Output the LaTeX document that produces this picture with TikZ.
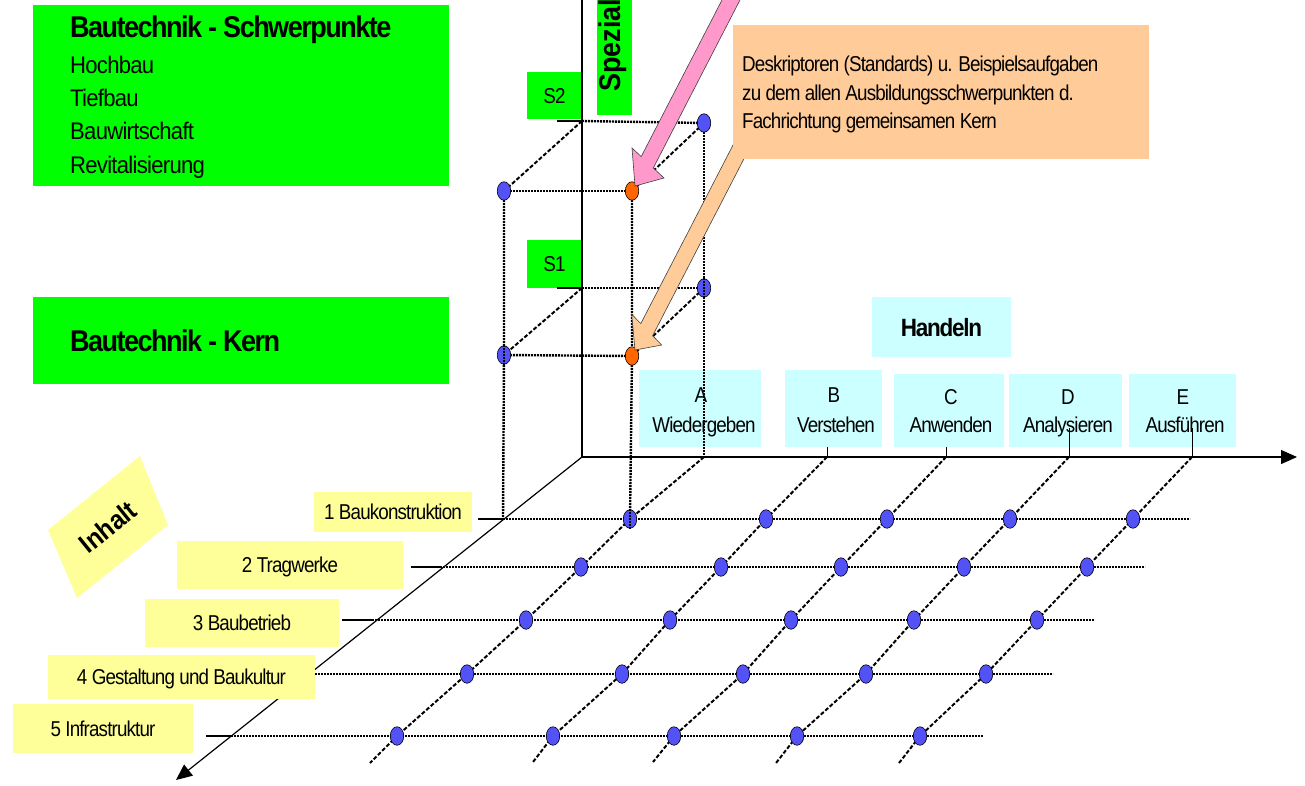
\documentclass[tikz,border=0pt]{standalone}
\usepackage{fontspec}
\setmainfont{Liberation Sans}
\newfontfamily\nf[FakeStretch=0.875,LetterSpace=-4]{Liberation Sans}
\newfontfamily\bdf[FakeStretch=0.9,LetterSpace=-5]{Liberation Sans Bold}
\newfontfamily\lf[FakeStretch=0.92,LetterSpace=-3]{Liberation Sans}
\newfontfamily\spz[FakeStretch=0.9]{Liberation Sans Bold}
\usetikzlibrary{arrows.meta,shapes.geometric}
\definecolor{kgreen}{HTML}{00FF00}
\definecolor{kpeach}{HTML}{FFCC99}
\definecolor{kpink}{HTML}{FF99CC}
\definecolor{kyellow}{HTML}{FFFF99}
\definecolor{kcyan}{HTML}{CCFFFF}
\definecolor{kblue}{HTML}{5252F7}
\definecolor{korange}{HTML}{FF6600}
\begin{document}
\begin{tikzpicture}[x=1pt,y=-1pt,
  ax/.style={line width=1.2pt,black},
  axarrow/.style={ax,-{Triangle[length=16pt,width=14pt]}},
  tick/.style={line width=1pt,black},
  hdot/.style={line width=2.4pt,black,dash pattern=on 2pt off 1pt},
  ddash/.style={line width=2pt,black,dash pattern=on 4pt off 2pt},
  dotnode/.style={ellipse,minimum width=13.5pt,minimum height=18.5pt,inner sep=0pt,draw=black,line width=0.6pt},
  bdot/.style={dotnode,fill=kblue},
  odot/.style={dotnode,fill=korange},
  gbox/.style={fill=kgreen,inner sep=0pt},
  cbox/.style={fill=kcyan,inner sep=0pt},
  ybox/.style={fill=kyellow,inner sep=0pt,font=\nf\fontsize{21.5}{26}\selectfont,text height=15.4pt,text depth=0pt},
  txt/.style={font=\nf\fontsize{21.5}{26}\selectfont,inner sep=0pt},
  lst/.style={font=\lf\fontsize{24}{28}\selectfont,inner sep=0pt,anchor=base west},
  big/.style={font=\bdf\fontsize{30}{36}\selectfont,inner sep=0pt,anchor=base west},
  blockarrow/.style={draw=black!75,line width=0.6pt,line join=miter}
]
\useasboundingbox (0,0) rectangle (1305,785);
\begin{scope}
\clip (0,0) rectangle (1305,785);

% ---------- green boxes ----------
\node[gbox,anchor=north west,minimum width=416pt,minimum height=181pt] (gtop) at (33,5) {};
\node[big] (title) at (70,37) {Bautechnik - Schwerpunkte};
\node[lst] (h1) at (70,73) {Hochbau};
\node[lst] (h2) at (70,106) {Tiefbau};
\node[lst] (h3) at (70,139) {Bauwirtschaft};
\node[lst] (h4) at (70,173) {Revitalisierung};
\node[gbox,anchor=north west,minimum width=416pt,minimum height=87pt] (gkern) at (33,297) {};
\node[big] (kern) at (70,351) {Bautechnik - Kern};
\node[gbox,anchor=south west,minimum width=35pt,minimum height=125pt] (gspez) at (597,115) {};
\node[rotate=90,anchor=base west,inner sep=0pt,font=\spz\fontsize{30}{36}\selectfont] (spez) at (620,92) {Spezial};
\node[gbox,txt,minimum width=55pt,minimum height=47pt,text height=15.4pt,text depth=0pt] (S2) at (554.5,95.5) {S2};
\node[gbox,txt,minimum width=55pt,minimum height=48pt,text height=15.4pt,text depth=0pt] (S1) at (554.5,264) {S1};

% ---------- cyan boxes ----------
\node[cbox,minimum width=139pt,minimum height=60pt,font=\bdf\fontsize{25}{30}\selectfont,text height=18pt,text depth=0pt] (hand) at (941.5,327) {Handeln};
\node[cbox,minimum width=122pt,minimum height=77pt] (bA) at (700,408.5) {};
\node[cbox,minimum width=97pt,minimum height=77pt] (bB) at (833.5,408.5) {};
\node[cbox,minimum width=110pt,minimum height=73pt] (bC) at (949,410.5) {};
\node[cbox,minimum width=113pt,minimum height=73pt] (bD) at (1065.5,410.5) {};
\node[cbox,minimum width=107pt,minimum height=73pt] (bE) at (1182.5,410.5) {};
\node[txt,anchor=base] (lA) at (701,402) {A};
\node[txt,anchor=base] (nA) at (704,432) {Wiedergeben};
\node[txt,anchor=base] (lB) at (834,402) {B};
\node[txt,anchor=base] (nB) at (836,432) {Verstehen};
\node[txt,anchor=base] (lC) at (951,404) {C};
\node[txt,anchor=base] (nC) at (951,432) {Anwenden};
\node[txt,anchor=base] (lD) at (1068,404) {D};
\node[txt,anchor=base] (nD) at (1068,432) {Analysieren};
\node[txt,anchor=base] (lE) at (1183,404) {E};
\node[txt,anchor=base] (nE) at (1185,432) {Ausführen};

% ---------- axes ----------
\coordinate (O) at (582,457);
\coordinate (vtop) at (582,-5);
\coordinate (hend) at (1297,457);
\coordinate (dend) at (176,780);
\draw[ax] (O) -- (vtop);
\draw[axarrow] (O) -- (hend);
\draw[axarrow] (O) -- (dend);

% ---------- yellow labels ----------
\fill[kyellow] (48,530) -- (140,456) -- (168,525) -- (77,598) -- cycle;
\node[rotate=39,inner sep=0pt,font=\spz\fontsize{27}{30}\selectfont] (inhalt) at (108,527) {Inhalt};
\node[ybox,minimum width=158pt,minimum height=40pt] (y1) at (393,512) {1 Baukonstruktion};
\node[ybox,minimum width=226pt,minimum height=48pt] (y2) at (290,565) {2 Tragwerke};
\node[ybox,minimum width=194pt,minimum height=48pt] (y3) at (242,623) {3 Baubetrieb};
\node[ybox,minimum width=267pt,minimum height=44pt] (y4) at (181.5,677) {4 Gestaltung und Baukultur};
\node[ybox,minimum width=180pt,minimum height=49pt] (y5) at (103,728.5) {5 Infrastruktur};

% ---------- grid coordinates ----------
\coordinate (tA) at (704,457); \coordinate (tB) at (827,457); \coordinate (tC) at (946,457);
\coordinate (tD) at (1069,457); \coordinate (tE) at (1192,457);
\coordinate (eA) at (370,763); \coordinate (eB) at (533,762); \coordinate (eC) at (653,762);
\coordinate (eD) at (776,763); \coordinate (eE) at (899,763);
\coordinate (A1) at (630,519); \coordinate (A2) at (581,567); \coordinate (A3) at (526,620); \coordinate (A4) at (467,674); \coordinate (A5) at (397,736);
\coordinate (B1) at (766,519); \coordinate (B2) at (721,567); \coordinate (B3) at (670,620); \coordinate (B4) at (622,674); \coordinate (B5) at (553,736);
\coordinate (C1) at (887,519); \coordinate (C2) at (841,567); \coordinate (C3) at (791,620); \coordinate (C4) at (743,674); \coordinate (C5) at (674,736);
\coordinate (D1) at (1010,519); \coordinate (D2) at (964,567); \coordinate (D3) at (914,620); \coordinate (D4) at (866,674); \coordinate (D5) at (797,736);
\coordinate (E1) at (1133,519); \coordinate (E2) at (1087,567); \coordinate (E3) at (1037,620); \coordinate (E4) at (986,674); \coordinate (E5) at (920,736);

\coordinate (r1s) at (478,519); \coordinate (r1x) at (503,519); \coordinate (r1e) at (1190,519);
\coordinate (r2s) at (411,567); \coordinate (r2x) at (440,567); \coordinate (r2e) at (1145,567);
\coordinate (r3s) at (342,620); \coordinate (r3x) at (372,620); \coordinate (r3e) at (1094,620);
\coordinate (r4s) at (315,674); \coordinate (r4e) at (1053,674);
\coordinate (r5s) at (206,736); \coordinate (r5x) at (231,736); \coordinate (r5e) at (983,736);

% 3D box coordinates
\coordinate (s2l) at (557,121); \coordinate (b2) at (582,121);
\coordinate (R2) at (704,123); \coordinate (L2) at (504,191); \coordinate (F2) at (632,191);
\coordinate (s1l) at (557,288); \coordinate (b1) at (582,288);
\coordinate (R1) at (704,288); \coordinate (L1) at (504,355); \coordinate (F1) at (632,356);

% ---------- ticks ----------
\draw[tick] (827,447) -- (tB);
\draw[tick] (946,447) -- (tC);
\draw[tick] (1069,428) -- (tD);
\draw[tick] (1192,428) -- (tE);

% ---------- rows ----------
\draw[ax] (r1s) -- (r1x); \draw[hdot] (r1x) -- (r1e);
\draw[ax] (r2s) -- (r2x); \draw[hdot] (r2x) -- (r2e);
\draw[ax] (r3s) -- (r3x); \draw[hdot] (r3x) -- (r3e);
\draw[hdot] (r4s) -- (r4e);
\draw[ax] (r5s) -- (r5x); \draw[hdot] (r5x) -- (r5e);

% ---------- columns ----------
\draw[ddash] (tA) -- (A1) -- (A2) -- (A3) -- (A4) -- (A5) -- (eA);
\draw[ddash] (tB) -- (B1) -- (B2) -- (B3) -- (B4) -- (B5) -- (eB);
\draw[ddash] (tC) -- (C1) -- (C2) -- (C3) -- (C4) -- (C5) -- (eC);
\draw[ddash] (tD) -- (D1) -- (D2) -- (D3) -- (D4) -- (D5) -- (eD);
\draw[ddash] (tE) -- (E1) -- (E2) -- (E3) -- (E4) -- (E5) -- (eE);

% ---------- 3D box ----------
\draw[ax] (s2l) -- (b2); \draw[hdot] (b2) -- (R2);
\draw[ddash] (b2) -- (L2); \draw[hdot] (L2) -- (F2); \draw[ddash] (R2) -- (F2);
\draw[ax] (s1l) -- (b1); \draw[hdot] (b1) -- (R1);
\draw[ddash] (b1) -- (L1); \draw[hdot] (L1) -- (F1); \draw[ddash] (R1) -- (F1);
\draw[hdot] (L2) -- (L1) -- (r1x);
\draw[hdot] (F2) -- (F1) -- (A1);
\draw[hdot] (R2) -- (R1) -- (tA);

% ---------- dots ----------
\foreach \p in {A1,A2,A3,A4,A5,B1,B2,B3,B4,B5,C1,C2,C3,C4,C5,D1,D2,D3,D4,D5,E1,E2,E3,E4,E5,R2,L2,R1,L1}
  \node[bdot] (d\p) at (\p) {};
\node[odot] (dF2) at (F2) {};
\node[odot] (dF1) at (F1) {};
\draw[hdot] (dL1.north) -- (dL1.south);
\draw[hdot] (dR1.north) -- (dR1.south);
\draw[hdot] (dA1.north) -- (dA1.south);

% ---------- block arrows ----------
\draw[blockarrow,fill=kpink] (732.3,-20) -- (641.2,156.6) -- (632,148) -- (635,186) -- (664,178) -- (653.3,168) -- (750.3,-20) -- cycle;
\draw[blockarrow,fill=kpeach] (756.3,100) -- (640.8,323.6) -- (631.7,314.3) -- (635,350) -- (661.7,345) -- (652.6,335.7) -- (774.3,100) -- cycle;

% ---------- orange box ----------
\node[fill=kpeach,anchor=north west,minimum width=416pt,minimum height=134pt,inner sep=0pt] (obox) at (733,25) {};
\node[txt,anchor=base west] (o1) at (742,71) {Deskriptoren (Standards) u. Beispielsaufgaben};
\node[txt,anchor=base west] (o2) at (742,100) {zu dem allen Ausbildungsschwerpunkten d.};
\node[txt,anchor=base west] (o3) at (742,128) {Fachrichtung gemeinsamen Kern};
\end{scope}
\end{tikzpicture}
\end{document}
